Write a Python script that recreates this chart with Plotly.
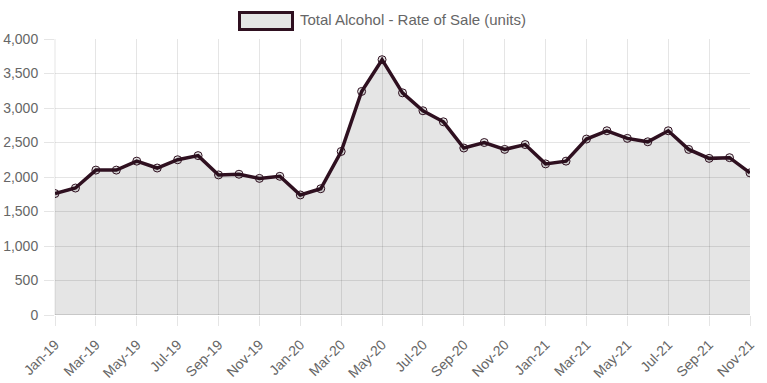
import plotly.graph_objects as go

months = ["Jan-19","Feb-19","Mar-19","Apr-19","May-19","Jun-19","Jul-19","Aug-19","Sep-19","Oct-19","Nov-19","Dec-19",
          "Jan-20","Feb-20","Mar-20","Apr-20","May-20","Jun-20","Jul-20","Aug-20","Sep-20","Oct-20","Nov-20","Dec-20",
          "Jan-21","Feb-21","Mar-21","Apr-21","May-21","Jun-21","Jul-21","Aug-21","Sep-21","Oct-21","Nov-21"]
rate_of_sale = [1760, 1840, 2100, 2100, 2230, 2130, 2250, 2310, 2030, 2040, 1980, 2010,
                1740, 1830, 2370, 3240, 3700, 3220, 2960, 2800, 2420, 2500, 2400, 2470,
                2190, 2230, 2550, 2670, 2560, 2510, 2670, 2400, 2270, 2280, 2060]
series_name = "Total Alcohol - Rate of Sale (units)"
y_ticks = [0, 500, 1000, 1500, 2000, 2500, 3000, 3500, 4000]
x_ticks = months[::2]

line_color = "#2f1020"
fill_color = "rgba(0,0,0,0.1)"
grid_color = "rgba(0,0,0,0.1)"
font = dict(family="Liberation Sans, Arial, sans-serif", size=14, color="#666")

L, R, T, B = 55, 750, 39, 315
W, H = R - L, B - T

fig = go.Figure()
fig.add_trace(go.Scatter(
    x=months, y=rate_of_sale, mode="lines+markers", name=series_name,
    fill="tozeroy", fillcolor=fill_color,
    line=dict(color=line_color, width=3.5),
    marker=dict(size=8, color="rgba(0,0,0,0.1)", line=dict(color=line_color, width=1)),
    showlegend=False,
))

fig.update_layout(
    width=767, height=383,
    margin=dict(l=L, r=767 - R, t=T, b=383 - B),
    paper_bgcolor="white", plot_bgcolor="white",
    font=font,
    xaxis=dict(
        type="category", range=[0, len(months) - 1], automargin=False,
        tickmode="array", tickvals=x_ticks, ticktext=x_ticks,
        tickangle=-45, ticks="outside", ticklen=10, tickcolor=grid_color,
        ticklabelstandoff=5,
        showgrid=True, gridcolor=grid_color, gridwidth=1,
        showline=False, zeroline=False, tickfont=font,
    ),
    yaxis=dict(
        range=[0, 4000], tickvals=y_ticks, tickformat=",d", automargin=False,
        ticks="outside", ticklen=10, tickcolor=grid_color, ticklabelstandoff=3,
        showgrid=True, gridcolor=grid_color, gridwidth=1,
        zeroline=False, showline=False, tickfont=font,
    ),
    shapes=[
        dict(type="line", xref="paper", yref="y", x0=0, x1=1, y0=0, y1=0,
             line=dict(color="rgba(0,0,0,0.25)", width=1)),
        dict(type="line", xref="paper", yref="paper", x0=0, x1=0, y0=0, y1=1,
             line=dict(color=grid_color, width=1)),
        dict(type="rect", xref="paper", yref="paper",
             x0=(239.5 - L) / W, x1=(292.5 - L) / W,
             y0=(B - 29.5) / H, y1=(B - 12.5) / H,
             fillcolor="#e5e5e5", line=dict(color=line_color, width=3)),
    ],
    annotations=[
        dict(text=series_name, xref="paper", yref="paper",
             x=(298 - L) / W, y=(B - 20) / H, xanchor="left", yanchor="middle",
             showarrow=False, font=dict(family=font["family"], size=15, color="#666")),
    ],
)

fig.write_html("out.html", config={"displayModeBar": False},
               post_script="document.body.style.margin='0';document.body.style.overflow='hidden';")
